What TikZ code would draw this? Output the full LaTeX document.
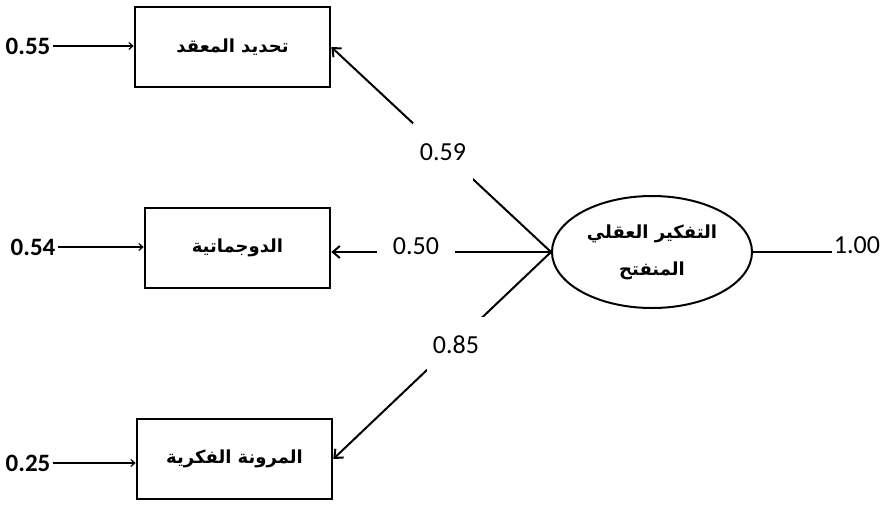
\documentclass[tikz,border=0pt]{standalone}
\usepackage{fontspec}
\setmainfont{Carlito}
\newfontfamily\arabicfont[Script=Arabic]{DejaVu Sans}
\TeXXeTstate=1
\usetikzlibrary{shapes.geometric,arrows.meta}
\begin{document}
\begin{tikzpicture}[x=0.5pt,y=-0.5pt]

\tikzset{line/.style={draw,line width=1pt}}
\tikzset{arrow/.style={line,-{Straight Barb[length=3.5pt,width=6pt]}}}
\tikzset{thinarrow/.style={draw,line width=0.6pt,-{Straight Barb[length=2pt,width=3.5pt]}}}
\tikzset{box/.style={draw,line width=1.3pt,inner sep=0pt,minimum height=40pt}}
\tikzset{lbl/.style={fill=white,inner sep=0pt,font=\fontsize{13}{15}\selectfont}}
\tikzset{err/.style={inner sep=1pt,font=\bfseries\fontsize{12.5}{14}\selectfont}}
\tikzset{ar/.style={font=\arabicfont\bfseries\fontsize{9}{18.5}\selectfont,align=center}}

\useasboundingbox (0,0) rectangle (880,505);

\node[box,ar,minimum width=97.5pt] (b1) at (232.5,47) {\beginR تحديد المعقد\endR};
\node[box,ar,minimum width=92.5pt] (b2) at (237.5,248) {\beginR الدوجماتية\endR};
\node[box,ar,minimum width=97.5pt] (b3) at (234.5,459) {\beginR المرونة الفكرية\endR};

\node[line,ellipse,ar,inner sep=0pt,minimum width=100pt,minimum height=56pt] (f1) at (652,252)
  {\beginR التفكير العقلي\endR\\\beginR المنفتح\endR};

\node[err] (e1) at (28,46) {0.55};
\node[err] (e2) at (33,247) {0.54};
\node[err] (e3) at (28,463) {0.25};
\node[inner sep=1pt,font=\fontsize{13}{15}\selectfont] (r1) at (857,245) {1.00};

\path[thinarrow] (e1) to (e1 -| b1.west);
\path[thinarrow] (e2) to (e2 -| b2.west);
\path[thinarrow] (e3) to (e3 -| b3.west);
\path[line] (f1.east) to (f1.east -| r1.west);

\path[arrow] (f1.west) to (b1.east);
\path[arrow] (f1.west) to (f1.west -| b2.east);
\path[arrow] (f1.west) to (b3.east);

\node[lbl,minimum width=30pt,minimum height=29pt] (l1) at (443,152) {0.59};
\node[lbl,minimum width=39pt,minimum height=20pt] (l2) at (416,246) {0.50};
\node[lbl,minimum width=29pt,minimum height=28pt] (l3) at (456,345) {0.85};

\end{tikzpicture}
\end{document}
